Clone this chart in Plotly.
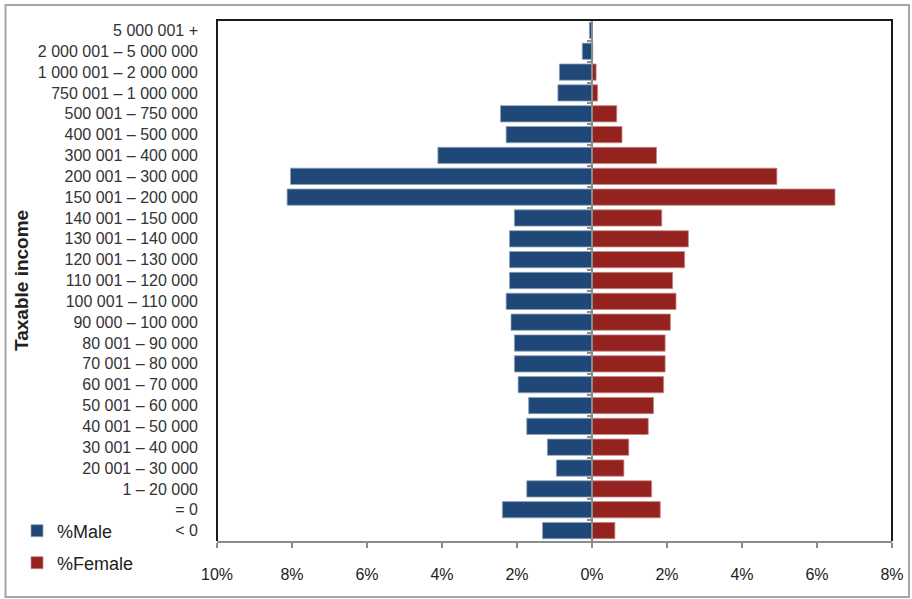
import plotly.graph_objects as go

categories = [
    "5 000 001 +", "2 000 001 – 5 000 000", "1 000 001 – 2 000 000",
    "750 001 – 1 000 000", "500 001 – 750 000", "400 001 – 500 000",
    "300 001 – 400 000", "200 001 – 300 000", "150 001 – 200 000",
    "140 001 – 150 000", "130 001 – 140 000", "120 001 – 130 000",
    "110 001 – 120 000", "100 001 – 110 000", "90 000 – 100 000",
    "80 001 – 90 000", "70 001 – 80 000", "60 001 – 70 000",
    "50 001 – 60 000", "40 001 – 50 000", "30 001 – 40 000",
    "20 001 – 30 000", "1 – 20 000", "= 0", "< 0",
]
male_pct = [0.07, 0.26, 0.87, 0.91, 2.44, 2.29, 4.11, 8.04, 8.13,
            2.07, 2.20, 2.20, 2.20, 2.29, 2.16, 2.07, 2.07, 1.97,
            1.69, 1.74, 1.19, 0.95, 1.74, 2.39, 1.32]
female_pct = [0.01, 0.02, 0.11, 0.15, 0.66, 0.80, 1.72, 4.93, 6.48,
              1.86, 2.57, 2.47, 2.15, 2.24, 2.09, 1.95, 1.95, 1.91,
              1.64, 1.50, 0.98, 0.85, 1.59, 1.82, 0.61]
x_ticks = [-10, -8, -6, -4, -2, 0, 2, 4, 6, 8]
x_tick_text = ["10%", "8%", "6%", "4%", "2%", "0%", "2%", "4%", "6%", "8%"]

BLUE = "#1F4878"
RED = "#94221F"
FONT = "Liberation Sans, Arial, sans-serif"

L, R, T, B = 217, 20, 20, 58
PW = 912 - L - R
PH = 599 - T - B

fig = go.Figure()
fig.add_trace(go.Bar(
    y=categories, x=[-v for v in male_pct], orientation="h", name="%Male",
    marker=dict(color=BLUE, line=dict(color="#8FA3BC", width=0.8)),
    yaxis="y", legend="legend", width=0.78,
))
fig.add_trace(go.Bar(
    y=categories, x=female_pct, orientation="h", name="%Female",
    marker=dict(color=RED, line=dict(color="#C48A88", width=0.8)),
    yaxis="y2", legend="legend2", width=0.78,
))

n = len(categories)
zero_pos = (0 - x_ticks[0]) / (x_ticks[-1] - x_ticks[0])

fig.update_layout(
    width=912, height=599,
    margin=dict(l=L, r=R, t=T, b=B, autoexpand=False),
    paper_bgcolor="white", plot_bgcolor="white",
    font=dict(family=FONT, color="#222222"),
    barmode="overlay",
    xaxis=dict(
        range=[x_ticks[0], x_ticks[-1]], tickvals=x_ticks, ticktext=x_tick_text,
        showgrid=False, zeroline=False, showline=True, linecolor="#8C8C8C",
        linewidth=2, ticks="outside", ticklen=5, tickwidth=1.5, tickcolor="#8C8C8C",
        tickfont=dict(size=16, color="#222222"), ticklabelstandoff=13,
        automargin=False,
    ),
    yaxis=dict(
        type="category", categoryorder="array", categoryarray=categories,
        range=[n - 0.5, -0.5], showgrid=False, zeroline=False, showline=False,
        ticks="", tickfont=dict(size=16, color="#333333"), ticklabelstandoff=18,
        automargin=False,
    ),
    yaxis2=dict(
        type="category", categoryorder="array", categoryarray=categories,
        range=[n - 0.5, -0.5], overlaying="y", anchor="free", position=zero_pos,
        side="left", showgrid=False, zeroline=False, showline=True,
        linecolor="#8C8C8C", linewidth=2, ticks="outside", tickson="boundaries",
        ticklen=4, tickwidth=1.5, tickcolor="#8C8C8C", showticklabels=False,
        automargin=False,
    ),
    legend=dict(x=(17 - L) / PW, y=(541 - 531) / PH, xanchor="left", yanchor="middle",
                font=dict(size=18, color="#222222"), bgcolor="rgba(0,0,0,0)"),
    legend2=dict(x=(17 - L) / PW, y=(541 - 563) / PH, xanchor="left", yanchor="middle",
                 font=dict(size=18, color="#222222"), bgcolor="rgba(0,0,0,0)"),
    showlegend=True,
    annotations=[dict(
        text="<b>Taxable income</b>", textangle=-90, xref="paper", yref="paper",
        x=(21 - L) / PW, y=(541 - 281) / PH, xanchor="center", yanchor="middle",
        showarrow=False, font=dict(size=19, color="#222222"),
    )],
    shapes=[
        dict(type="path", xref="paper", yref="paper",
             path="M 0,0 L 0,1 L 1,1 L 1,0", line=dict(color="#1A1A1A", width=2)),
        dict(type="rect", xref="paper", yref="paper",
             x0=(5.5 - L) / PW, x1=(909 - L) / PW,
             y0=(541 - 597) / PH, y1=(541 - 5) / PH,
             line=dict(color="#A6A6A6", width=2), layer="below"),
    ],
)

fig.write_html("out.html")
